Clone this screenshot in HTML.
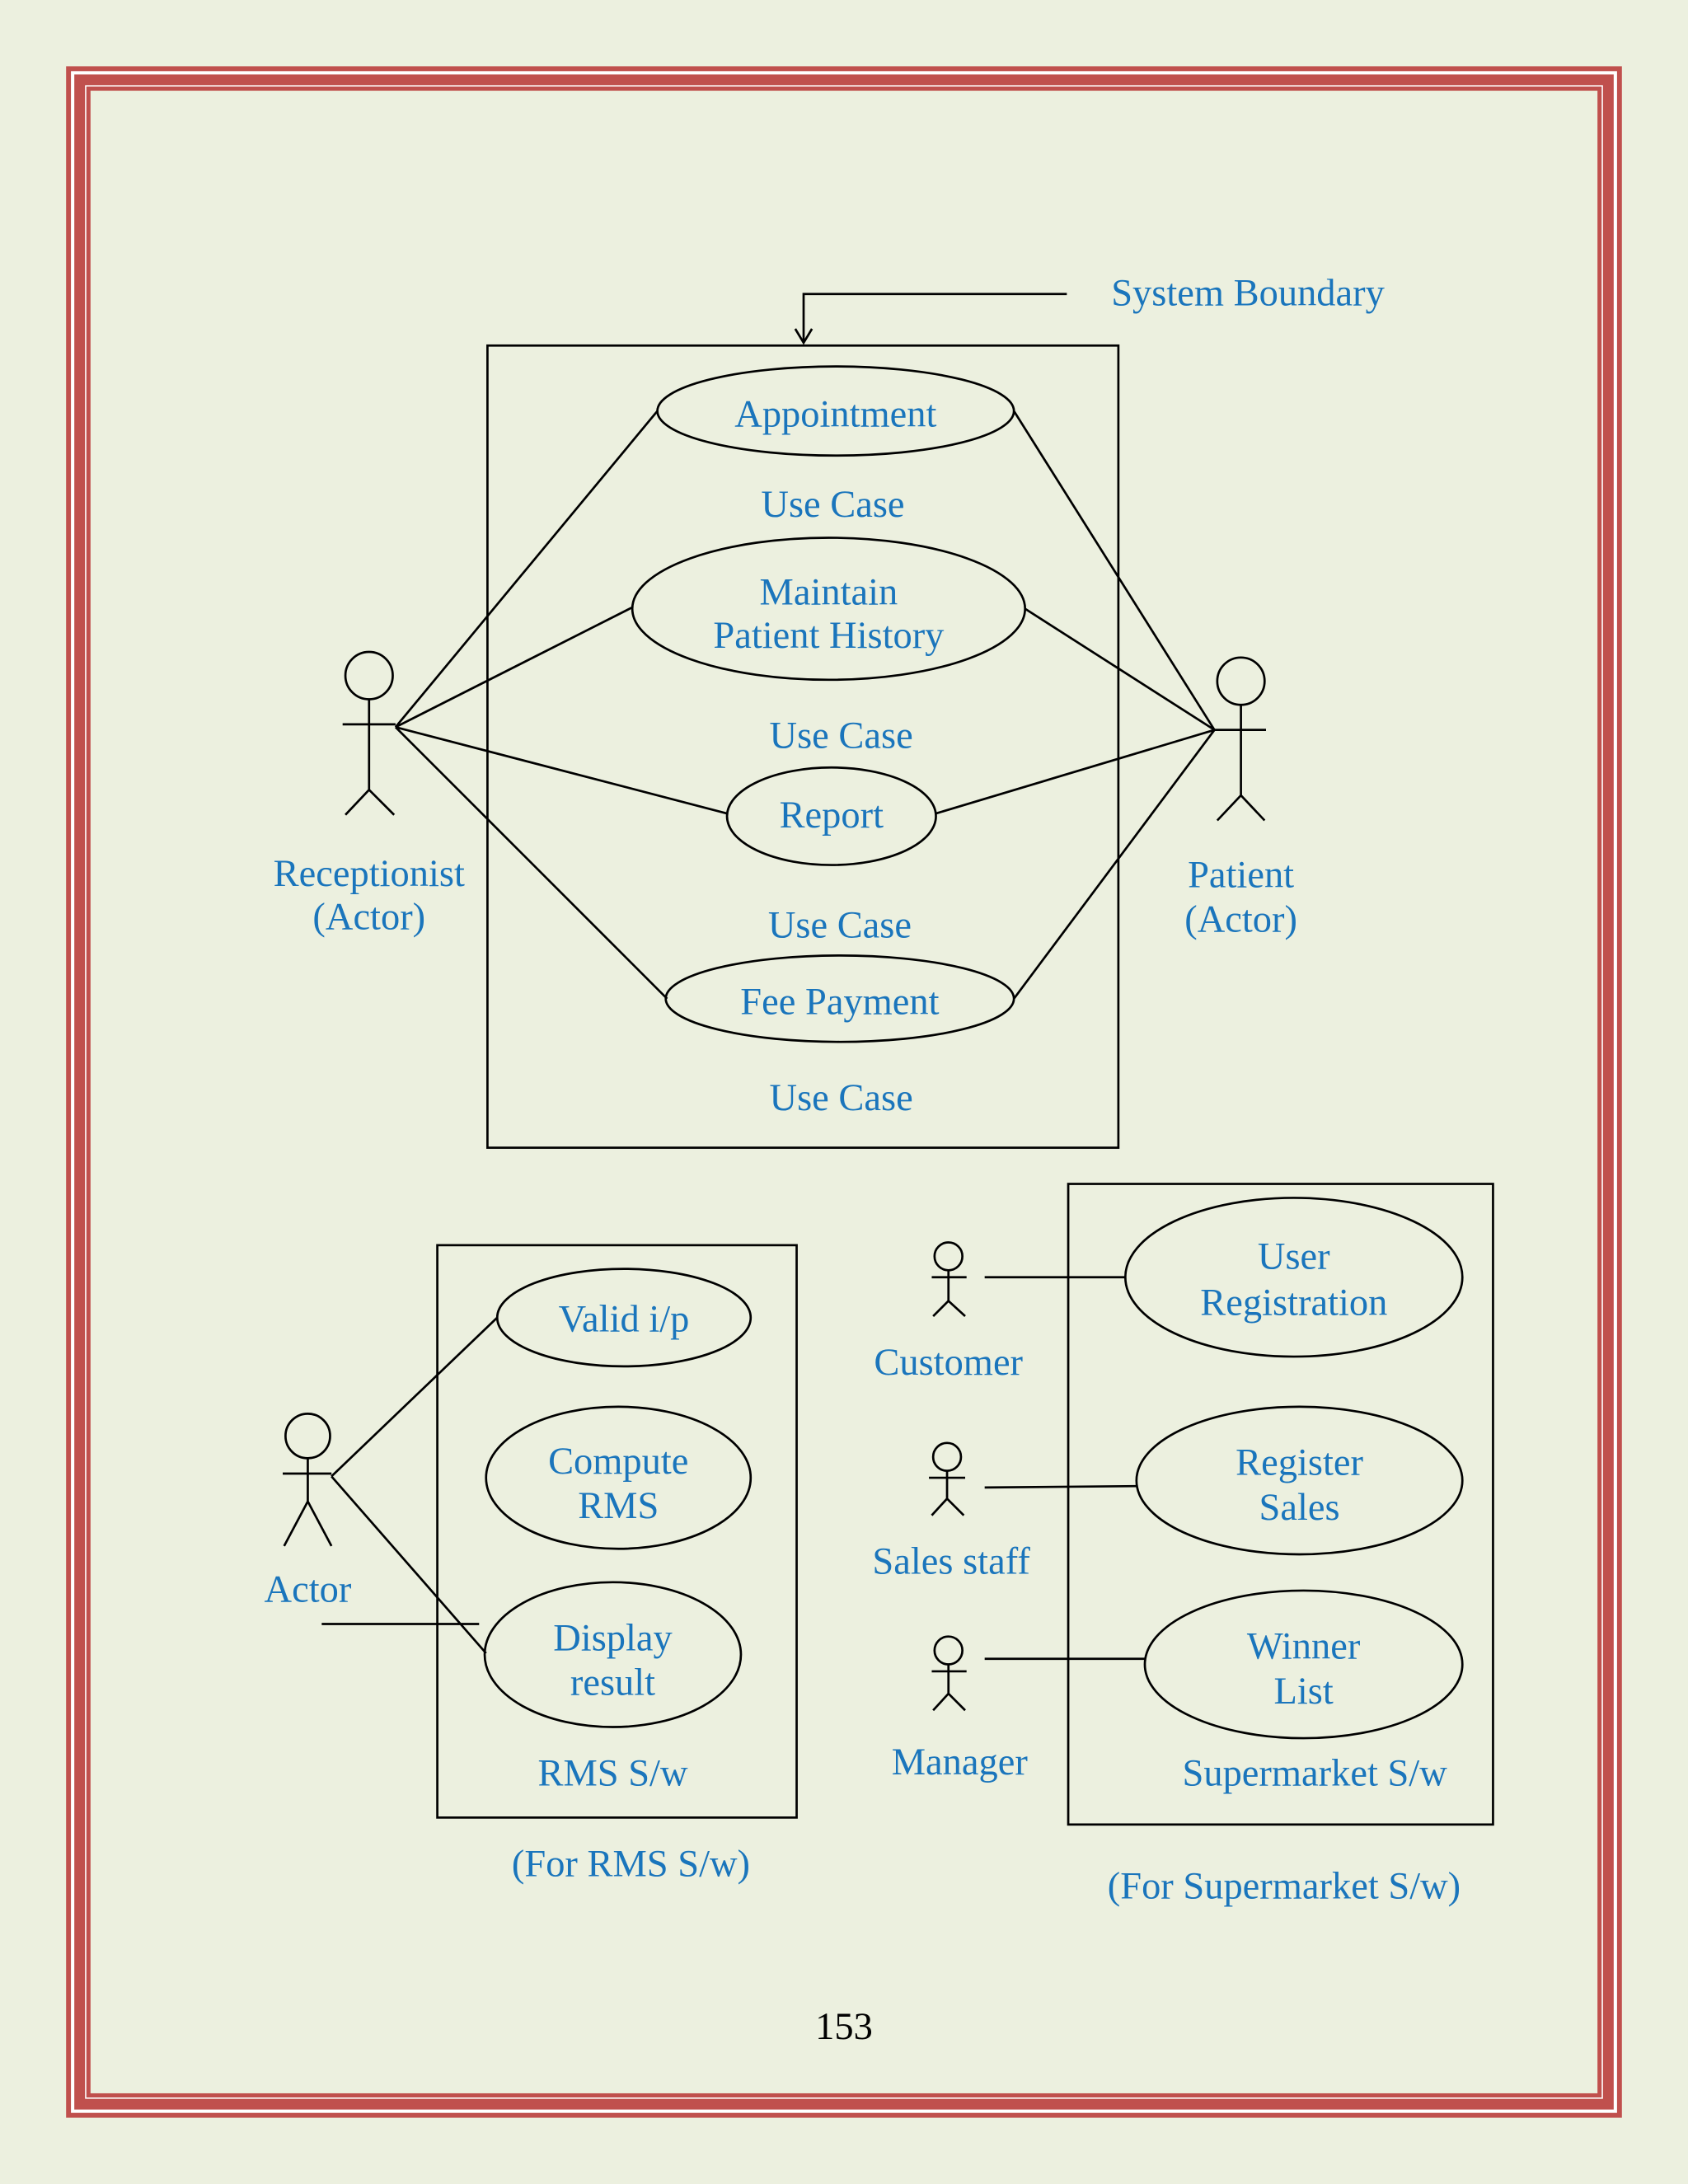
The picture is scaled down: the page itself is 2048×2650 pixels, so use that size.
<!DOCTYPE html>
<html><head><style>
html,body{margin:0;padding:0;background:#ecf0df;}
svg{display:block}
text{font-family:"Liberation Serif",serif;fill:#1a75bc;font-size:27.5px;text-anchor:middle}
</style></head><body>
<svg width="2048" height="2650" viewBox="0 0 1212 1568" xmlns="http://www.w3.org/2000/svg">
<rect x="0" y="0" width="1212" height="1568" fill="#ecf0df"/>
<rect x="47.5" y="47.5" width="1117" height="1473" fill="#fff"/>
<rect x="49.2" y="49.2" width="1113.6" height="1469.6" fill="none" stroke="#c0504d" stroke-width="3.5"/>
<rect x="57.2" y="57.2" width="1097.6" height="1453.6" fill="none" stroke="#c0504d" stroke-width="7.7"/>
<rect x="63.5" y="63.5" width="1085" height="1441" fill="#ecf0df" stroke="#c0504d" stroke-width="3"/>
<g fill="none" stroke="#000" stroke-width="1.6">
<rect x="350" y="248" width="453" height="576"/>
<path d="M766 211 H577 V245"/><path d="M571 236 L577 246 L583 236"/>
<ellipse cx="600" cy="295" rx="128" ry="32"/>
<ellipse cx="595" cy="437" rx="141" ry="51"/>
<ellipse cx="597" cy="586" rx="75" ry="35"/>
<ellipse cx="603" cy="717" rx="125" ry="31"/>
<path d="M284 522 L472 295 M284 522 L454 436 M284 522 L522 584 M284 522 L479 717"/>
<path d="M872 524 L728 295 M872 524 L736 437 M872 524 L672 584 M872 524 L728 717"/>
<circle cx="265" cy="485" r="17"/><path d="M265 502 V567 M246 520 H284 M265 567 L248 585 M265 567 L283 585"/>
<circle cx="891" cy="489" r="17"/><path d="M891 506 V571 M872 524 H909 M891 571 L874 589 M891 571 L908 589"/>
<rect x="314" y="894" width="258" height="411"/>
<ellipse cx="448" cy="946" rx="91" ry="35"/>
<ellipse cx="444" cy="1061" rx="95" ry="51"/>
<ellipse cx="440" cy="1188" rx="92" ry="52"/>
<circle cx="221" cy="1031" r="16"/><path d="M221 1047 V1078 M203 1058 H238 M221 1078 L204 1110 M221 1078 L238 1110"/>
<path d="M238 1060 L357 946 M238 1060 L349 1187 M231 1166 H344"/>
<rect x="767" y="850" width="305" height="460"/>
<ellipse cx="929" cy="917" rx="121" ry="57"/>
<ellipse cx="933" cy="1063" rx="117" ry="53"/>
<ellipse cx="936" cy="1195" rx="114" ry="53"/>
<path d="M707 917 H808 M707 1068 L816 1067 M707 1191 H822"/>
<circle cx="681" cy="902" r="10"/><path d="M681 912 V934 M669 917 H694 M681 934 L670 945 M681 934 L693 945"/>
<circle cx="680" cy="1046" r="10"/><path d="M680 1056 V1076 M667 1061 H693 M680 1076 L669 1088 M680 1076 L692 1088"/>
<circle cx="681" cy="1185" r="10"/><path d="M681 1195 V1216 M669 1200 H694 M681 1216 L670 1228 M681 1216 L693 1228"/>
</g>
<text x="896" y="219">System Boundary</text>
<text x="600" y="306">Appointment</text>
<text x="598" y="371">Use Case</text>
<text x="595" y="434">Maintain</text>
<text x="595" y="465">Patient History</text>
<text x="604" y="537">Use Case</text>
<text x="597" y="594">Report</text>
<text x="603" y="673">Use Case</text>
<text x="603" y="728">Fee Payment</text>
<text x="604" y="797">Use Case</text>
<text x="265" y="636">Receptionist</text>
<text x="265" y="667">(Actor)</text>
<text x="891" y="637">Patient</text>
<text x="891" y="669">(Actor)</text>
<text x="448" y="956">Valid i/p</text>
<text x="444" y="1058">Compute</text>
<text x="444" y="1090">RMS</text>
<text x="440" y="1185">Display</text>
<text x="440" y="1217">result</text>
<text x="440" y="1282">RMS S/w</text>
<text x="221" y="1150">Actor</text>
<text x="453" y="1347">(For RMS S/w)</text>
<text x="929" y="911">User</text>
<text x="929" y="944">Registration</text>
<text x="933" y="1059">Register</text>
<text x="933" y="1091">Sales</text>
<text x="936" y="1191">Winner</text>
<text x="936" y="1223">List</text>
<text x="944" y="1282">Supermarket S/w</text>
<text x="681" y="987">Customer</text>
<text x="683" y="1130">Sales staff</text>
<text x="689" y="1274">Manager</text>
<text x="922" y="1363">(For Supermarket S/w)</text>
<text x="606" y="1464" style="fill:#000">153</text>
</svg>
</body></html>
